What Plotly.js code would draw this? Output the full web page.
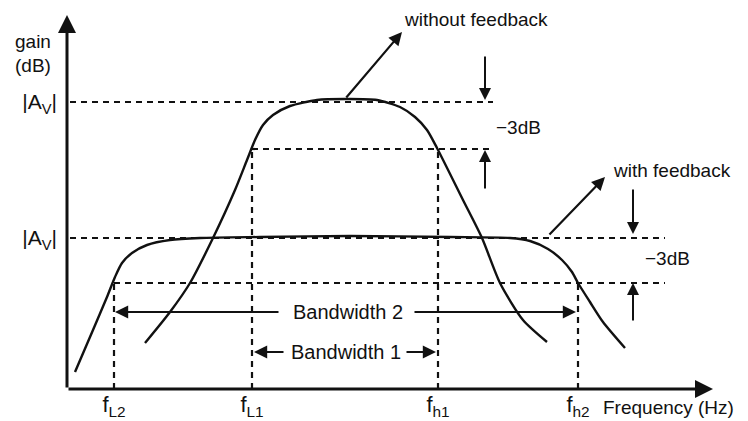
<!DOCTYPE html>
<html><head><meta charset="utf-8">
<script src="https://cdn.plot.ly/plotly-3.0.1.min.js"></script>
<style>html,body{margin:0;padding:0;background:#fff}#chart{width:748px;height:421px}</style>
</head><body><div id="chart"></div>
<script>
// Frequency response curves (x = frequency position, y = gain, arbitrary units)
const freqWithout = [145,170,190,213,235,247,255,263,273,290,317,345,377,400,415,427,437,463,482,500,523,547];
const gainWithout = [46,77,106,151,199,229,249,264,274,283,289,290,289,282,272,259,241,189,151,106,69,47];
const freqWith = [75,93,107,115,122,132,147,170,200,260,350,450,510,530,548,562,572,578,590,603,625];
const gainWith = [17,59,92,112,126,136,144,149,151,152,153,152,151,148,140,129,117,106,87,67,41];

// Reference levels
const levelAvWithout = 287;
const level3dBWithout = 240;
const levelAvWith = 151;
const level3dBWith = 106;

// Cut-off frequencies and tick labels
const cutoffFreqs = [114, 252, 438, 578];
const cutoffLabels = ['f<sub>L2</sub>', 'f<sub>L1</sub>', 'f<sub>h1</sub>', 'f<sub>h2</sub>'];
const gainTickVals = [levelAvWithout, levelAvWith];
const gainTickLabels = ['|A<sub>V</sub>|', '|A<sub>V</sub>|'];

const X0 = 67, X1 = 748, YMAX = 389;
const FONT = 'Liberation Sans, Arial, sans-serif';
const dashStyle = '6px,5px';

const traces = [];
function dashed(xs, ys) {
  traces.push({x: xs, y: ys, mode: 'lines', line: {color: '#111', width: 2.2, dash: dashStyle}, hoverinfo: 'skip', showlegend: false});
}
// horizontal reference lines
dashed([70, 493], [levelAvWithout, levelAvWithout]);
dashed([cutoffFreqs[1], 493], [level3dBWithout, level3dBWithout]);
dashed([70, 665], [levelAvWith, levelAvWith]);
dashed([cutoffFreqs[0], 665], [level3dBWith, level3dBWith]);
// vertical cut-off lines
dashed([cutoffFreqs[0], cutoffFreqs[0]], [0, level3dBWith]);
dashed([cutoffFreqs[1], cutoffFreqs[1]], [0, level3dBWithout]);
dashed([cutoffFreqs[2], cutoffFreqs[2]], [0, level3dBWithout]);
dashed([cutoffFreqs[3], cutoffFreqs[3]], [0, level3dBWith]);

traces.push({x: freqWithout, y: gainWithout, mode: 'lines', line: {color: '#111', width: 2.4, shape: 'spline', smoothing: 0.7}, hoverinfo: 'skip', showlegend: false});
traces.push({x: freqWith, y: gainWith, mode: 'lines', line: {color: '#111', width: 2.4, shape: 'spline', smoothing: 0.7}, hoverinfo: 'skip', showlegend: false});

function arrow(x0, y0, x1, y1, size, width) {
  return {x: x1, y: y1, ax: x0, ay: y0, xref: 'x', yref: 'y', axref: 'x', ayref: 'y',
    text: '', showarrow: true, arrowhead: 2, arrowsize: size || 1.2, arrowwidth: width || 2,
    arrowcolor: '#111', standoff: 0, startstandoff: 0};
}
function label(x, y, text, xanchor, size, refs) {
  return Object.assign({x: x, y: y, text: text, xref: 'x', yref: 'y', showarrow: false,
    xanchor: xanchor || 'center', yanchor: 'middle', font: {family: FONT, size: size || 19, color: '#111'}}, refs || {});
}
const px = v => (v - X0) / (X1 - X0);
const py = v => (YMAX - v) / YMAX;

const annotations = [
  // axes
  arrow(X0, 0, 713, 0, 1.2, 3),
  arrow(X0, 0, X0, 374, 1.2, 3),
  // pointers
  arrow(345, 290, 402, 357, 1.2, 2.2),
  arrow(548, 153, 605, 212, 1.2, 2.2),
  // -3dB arrows
  arrow(485, 334, 485, 289, 1.2, 2),
  arrow(485, 199, 485, 239, 1.2, 2),
  arrow(633, 201, 633, 155, 1.2, 2),
  arrow(633, 67, 633, 106, 1.2, 2),
  // bandwidth arrows
  arrow(280, 77, 115, 77, 1.2, 2.2),
  arrow(413, 77, 576, 77, 1.2, 2.2),
  arrow(285, 37, 254, 37, 1.2, 2.2),
  arrow(405, 37, 436, 37, 1.2, 2.2),
  // texts
  label(476, 370, 'without feedback', 'center', 19),
  label(494, 262, '−3dB', 'left', 19),
  label(611, 219, 'with feedback', 'left', 19),
  label(643, 131, '−3dB', 'left', 19),
  label(348, 77, 'Bandwidth 2', 'center', 20),
  label(346, 37, 'Bandwidth 1', 'center', 20),
  label(px(13), py(42), 'gain', 'left', 19, {xref: 'paper', yref: 'paper'}),
  label(px(13), py(65), '(dB)', 'left', 19, {xref: 'paper', yref: 'paper'}),
  label(px(601), py(407), 'Frequency (Hz)', 'left', 19, {xref: 'paper', yref: 'paper'})
];

const layout = {
  width: 748, height: 421,
  margin: {l: X0, r: 0, t: 0, b: 421 - YMAX},
  paper_bgcolor: '#fff', plot_bgcolor: '#fff',
  xaxis: {range: [X0, X1], showgrid: false, zeroline: false, showline: false, ticks: '',
    tickvals: cutoffFreqs, ticktext: cutoffLabels, tickfont: {family: FONT, size: 22, color: '#111'}, ticklabelstandoff: 0, fixedrange: true},
  yaxis: {range: [0, YMAX], showgrid: false, zeroline: false, showline: false, ticks: '',
    tickvals: gainTickVals, ticktext: gainTickLabels, tickfont: {family: FONT, size: 21, color: '#111'}, ticklabelstandoff: 9, fixedrange: true},
  annotations: annotations,
  showlegend: false
};
Plotly.newPlot('chart', traces, layout, {displayModeBar: false, staticPlot: true});
</script></body></html>
